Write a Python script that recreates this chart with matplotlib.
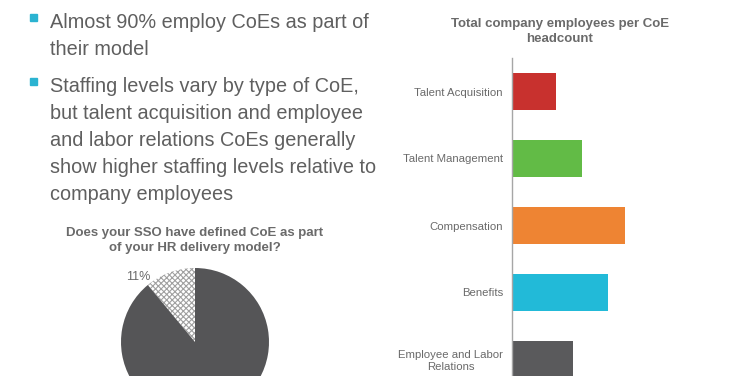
import matplotlib
matplotlib.use("Agg")
import matplotlib.pyplot as plt
from matplotlib.patches import Rectangle

plt.rcParams['font.family'] = ['Liberation Sans', 'DejaVu Sans']
plt.rcParams['hatch.linewidth'] = 0.8

# ---- data ----
bullets = [
    "Almost 90% employ CoEs as part of\ntheir model",
    "Staffing levels vary by type of CoE,\nbut talent acquisition and employee\nand labor relations CoEs generally\nshow higher staffing levels relative to\ncompany employees",
]
pie_title = "Does your SSO have defined CoE as part\nof your HR delivery model?"
pie_values = [11, 89]
pie_label = "11%"

bar_title = "Total company employees per CoE\nheadcount"
bar_categories = ["Talent Acquisition", "Talent Management", "Compensation",
                  "Benefits", "Employee and Labor\nRelations"]
bar_values = [440, 700, 1130, 960, 610]
bar_colors = ["#C8312E", "#62BB46", "#EE8433", "#22BAD8", "#5A5A5C"]

W, H = 740, 376
fig = plt.figure(figsize=(W / 100, H / 100), dpi=100)
fig.patch.set_facecolor("white")

def fx(px):
    return px / W

def fy(py):
    return 1 - py / H

text_color = "#5F5F5F"

# ---- bullets ----
bullet_tops = [13, 77]
for t, txt in zip(bullet_tops, bullets):
    fig.patches.append(Rectangle((fx(30), fy(t + 8)), 7 / W, 7 / H,
                                 transform=fig.transFigure, color="#2BB3D1"))
    fig.text(fx(50), fy(t), txt, ha="left", va="top", fontsize=14.3,
             color=text_color, linespacing=1.53)

# ---- pie ----
R = 74
cx, cy = 195, 342
half = R * 1.2
axp = fig.add_axes([fx(cx - half), fy(cy + half), 2 * half / W, 2 * half / H])
wedges, _ = axp.pie(pie_values, startangle=90, counterclock=True,
                    colors=["white", "#555557"], radius=1,
                    wedgeprops=dict(linewidth=0))
wedges[0].set_hatch("xxxxxx")
wedges[0].set_edgecolor("#A0A0A0")
wedges[0].set_linewidth(0)
axp.set_xlim(-1.2, 1.2)
axp.set_ylim(-1.2, 1.2)
axp.set_aspect("equal")
axp.axis("off")
axp.text(-57 / R, 65 / R, pie_label, ha="center", va="center",
         fontsize=9, color="#6A6A6A")
fig.text(fx(195), fy(227), pie_title, ha="center", va="top", fontsize=9.5,
         fontweight="bold", color="#6A6A6A", linespacing=1.38)

# ---- bar chart ----
top, step = 58, 67
axb = fig.add_axes([fx(512), fy(top + 5 * step), (W - 512) / W, 5 * step / H])
ypos = list(range(len(bar_categories)))
axb.barh(ypos, bar_values, height=0.55, color=bar_colors)
axb.set_ylim(4.5, -0.5)
axb.set_xlim(0, 2280)
axb.set_yticks(ypos)
axb.set_yticklabels(bar_categories, fontsize=8.2, color="#6A6A6A",
                    linespacing=1.25)
for lab in axb.get_yticklabels():
    lab.set_multialignment("center")
axb.tick_params(axis="y", length=0, pad=6.5)
axb.set_xticks([])
for s in ["top", "right", "bottom"]:
    axb.spines[s].set_visible(False)
axb.spines["left"].set_color("#A6A6A6")
axb.spines["left"].set_linewidth(1)
fig.text(fx(560), fy(18), bar_title, ha="center", va="top", fontsize=9.5,
         fontweight="bold", color="#6A6A6A", linespacing=1.3)

fig.savefig("out.png", dpi=100, facecolor="white")
